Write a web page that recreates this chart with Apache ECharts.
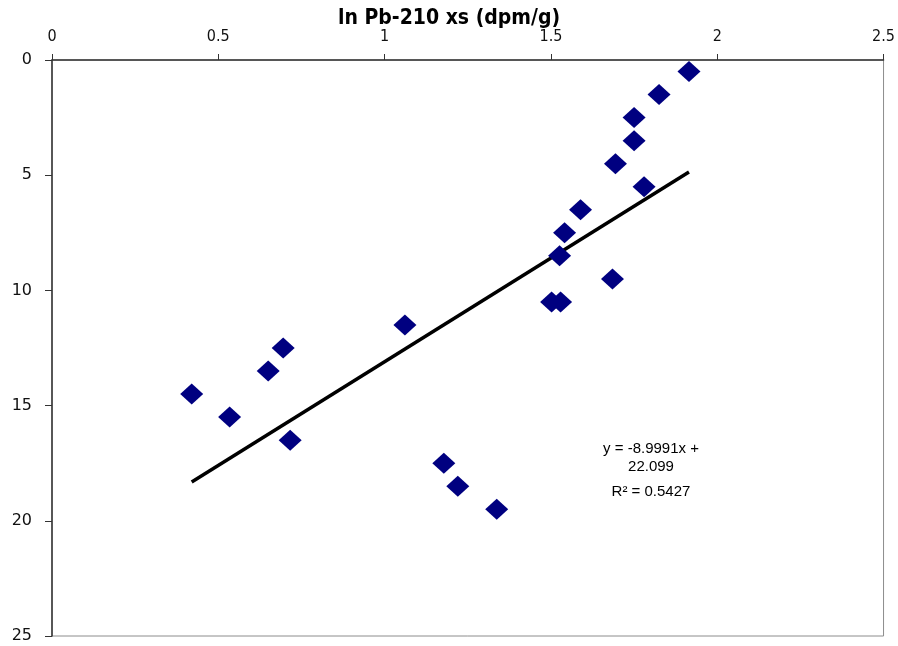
<!DOCTYPE html>
<html>
<head>
<meta charset="utf-8">
<script src="https://cdn.jsdelivr.net/npm/echarts@6/dist/echarts.min.js"></script>
<style>
    html, body { margin: 0; padding: 0; background: #fff; }
    #main { width: 898px; height: 646px; }
</style>
</head>
<body>
<div id="main"></div>
<script>
// ln Pb-210 xs (dpm/g) vs depth
var lnPb = [1.915, 1.825, 1.75, 1.75, 1.694, 1.78, 1.589, 1.541, 1.526, 1.685, 1.502, 1.529, 1.061, 0.695, 0.650, 0.42, 0.534, 0.716, 1.178, 1.22, 1.337];
var depth = [0.5, 1.5, 2.5, 3.5, 4.5, 5.5, 6.5, 7.5, 8.5, 9.5, 10.5, 10.5, 11.5, 12.5, 13.5, 14.5, 15.5, 16.5, 17.5, 18.5, 19.5];

// trendline from the fit shown on the chart
var slope = -8.9991;
var intercept = 22.099;
var r2 = 0.5427;

function buildPoints() {
    var pts = [];
    for (var i = 0; i < lnPb.length; i++) {
        pts.push([lnPb[i], depth[i]]);
    }
    return pts;
}

function buildTrend() {
    var xMin = Math.min.apply(null, lnPb);
    var xMax = Math.max.apply(null, lnPb);
    return [
        [xMin, slope * xMin + intercept],
        [xMax, slope * xMax + intercept]
    ];
}

var labelFont = '15px "Liberation Sans"';

var myChart = echarts.init(document.getElementById('main'));
var option = {
    animation: false,
    title: {
        text: 'ln Pb-210 xs (dpm/g)',
        left: 'center',
        top: 3,
        textStyle: {
            fontFamily: 'DejaVu Sans Condensed',
            fontWeight: 'bold',
            fontSize: 21,
            color: '#000'
        }
    },
    grid: {
        left: 52,
        right: 12,
        top: 60,
        bottom: 10,
        show: true,
        borderColor: '#8c8c8c',
        borderWidth: 1
    },
    xAxis: {
        type: 'value',
        position: 'top',
        min: 0,
        max: 2.5,
        interval: 0.5,
        axisLine: {show: true, lineStyle: {color: '#333', width: 1.5}},
        axisTick: {show: true, length: 6, lineStyle: {color: '#333'}},
        splitLine: {show: false},
        axisLabel: {
            margin: 15,
            fontFamily: 'DejaVu Sans Condensed',
            fontSize: 16,
            color: '#111'
        }
    },
    yAxis: {
        type: 'value',
        inverse: true,
        min: 0,
        max: 25,
        interval: 5,
        axisLine: {show: true, lineStyle: {color: '#333', width: 1.5}},
        axisTick: {show: true, length: 7, lineStyle: {color: '#333'}},
        splitLine: {show: false},
        axisLabel: {
            margin: 20,
            fontFamily: 'DejaVu Sans',
            fontSize: 16,
            color: '#111'
        }
    },
    series: [
        {
            type: 'line',
            data: buildTrend(),
            symbol: 'none',
            lineStyle: {color: '#000', width: 3.5},
            z: 2
        },
        {
            type: 'scatter',
            data: buildPoints(),
            symbol: 'diamond',
            symbolSize: [23, 21],
            itemStyle: {color: '#000080', opacity: 1},
            z: 3
        }
    ],
    graphic: [
        {
            type: 'text',
            x: 651,
            y: 449,
            style: {
                text: 'y = -8.9991x +',
                font: labelFont,
                fill: '#000',
                align: 'center',
                verticalAlign: 'middle'
            }
        },
        {
            type: 'text',
            x: 651,
            y: 467,
            style: {
                text: '22.099',
                font: labelFont,
                fill: '#000',
                align: 'center',
                verticalAlign: 'middle'
            }
        },
        {
            type: 'text',
            x: 651,
            y: 492,
            style: {
                text: 'R\u00B2 = ' + r2,
                font: labelFont,
                fill: '#000',
                align: 'center',
                verticalAlign: 'middle'
            }
        }
    ]
};
myChart.setOption(option);
</script>
</body>
</html>
